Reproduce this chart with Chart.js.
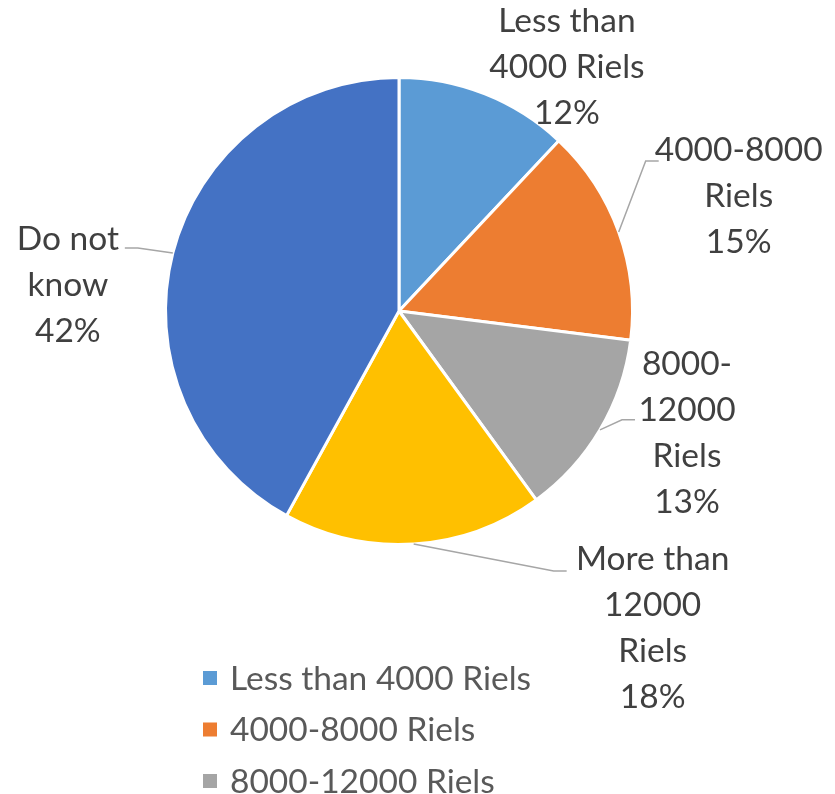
<!DOCTYPE html>
<html>
<head>
<meta charset="utf-8">
<script src="https://cdn.jsdelivr.net/npm/chart.js@4.4.1/dist/chart.umd.min.js"></script>
<style>
  html, body { margin: 0; padding: 0; background: #ffffff; overflow: hidden; }
  #wrap { position: relative; width: 835px; height: 794px; }
</style>
</head>
<body>
<div id="wrap"><canvas id="pie" width="835" height="794"></canvas></div>
<script>
// Spending categories and their share of respondents (%)
const categories = [
  'Less than 4000 Riels',
  '4000-8000 Riels',
  '8000-12000 Riels',
  'More than 12000 Riels',
  'Do not know'
];
const shares = [12, 15, 13, 18, 42];
// Text lines of the label placed next to each slice
const sliceLabelLines = [
  ['Less than', '4000 Riels'],
  ['4000-8000', 'Riels'],
  ['8000-', '12000', 'Riels'],
  ['More than', '12000', 'Riels'],
  ['Do not', 'know']
];

const colors = ['#5B9BD5', '#ED7D31', '#A5A5A5', '#FFC000', '#4472C4'];

// Label placement relative to the mid point of each slice's outer edge:
// (dx, dy) = centre of the text block, leader = end of the leader line (or null)
const labelPlacement = [
  { dx: 82,   dy: -27, leader: null },
  { dx: 120,  dy: -36, leader: { ex: 40,  ey: -71, side: 1 } },
  { dx: 87,   dy: 3,   leader: { ex: 35,  ey: -10, side: 1 } },
  { dx: 239,  dy: 84,  leader: { ex: 153, ey: 27,  side: 1 } },
  { dx: -105, dy: 32,  leader: { ex: -48, ey: -5,  side: -1 } }
];

const FONT = '33.5px Lato, "Open Sans", sans-serif';
const LINE_H = 46;

const sliceLabels = {
  id: 'sliceLabels',
  afterDatasetsDraw(chart) {
    const ctx = chart.ctx;
    const meta = chart.getDatasetMeta(0);
    const total = shares.reduce((a, b) => a + b, 0);
    ctx.save();
    meta.data.forEach((arc, i) => {
      const p = arc.getProps(['x', 'y', 'startAngle', 'endAngle', 'outerRadius'], true);
      const mid = (p.startAngle + p.endAngle) / 2;
      const ex = p.x + Math.cos(mid) * p.outerRadius;
      const ey = p.y + Math.sin(mid) * p.outerRadius;
      const place = labelPlacement[i];

      if (place.leader) {
        const lx = ex + place.leader.ex;
        const ly = ey + place.leader.ey;
        ctx.strokeStyle = '#A6A6A6';
        ctx.lineWidth = 1.5;
        ctx.beginPath();
        ctx.moveTo(ex, ey);
        ctx.lineTo(lx - place.leader.side * 13, ly);
        ctx.lineTo(lx, ly);
        ctx.stroke();
      }

      const pct = Math.round(shares[i] / total * 100) + '%';
      const lines = sliceLabelLines[i].concat([pct]);
      const cx = ex + place.dx;
      const cy = ey + place.dy;
      ctx.font = FONT;
      ctx.fillStyle = '#404040';
      ctx.textAlign = 'center';
      ctx.textBaseline = 'middle';
      const top = cy - (lines.length - 1) * LINE_H / 2;
      lines.forEach((t, k) => ctx.fillText(t, cx, top + k * LINE_H));
    });
    ctx.restore();
  }
};

// Vertical legend below the pie
const columnLegend = {
  id: 'columnLegend',
  afterDraw(chart) {
    const ctx = chart.ctx;
    const x0 = 203, y0 = 678, rowH = 51.5, box = 14;
    ctx.save();
    ctx.font = FONT;
    ctx.textAlign = 'left';
    ctx.textBaseline = 'middle';
    chart.data.labels.forEach((lab, i) => {
      const y = y0 + i * rowH;
      ctx.fillStyle = colors[i];
      ctx.fillRect(x0, y - box / 2, box, box);
      ctx.fillStyle = '#595959';
      ctx.fillText(lab, x0 + 27, y + 1);
    });
    ctx.restore();
  }
};

new Chart(document.getElementById('pie'), {
  type: 'pie',
  data: {
    labels: categories,
    datasets: [{
      data: shares,
      backgroundColor: colors,
      borderColor: '#ffffff',
      borderWidth: 3
    }]
  },
  options: {
    responsive: false,
    animation: false,
    layout: { padding: { left: 164, right: 201, top: 76, bottom: 248 } },
    plugins: {
      legend: { display: false },
      tooltip: { enabled: false },
      title: { display: false }
    }
  },
  plugins: [sliceLabels, columnLegend]
});
</script>
</body>
</html>
